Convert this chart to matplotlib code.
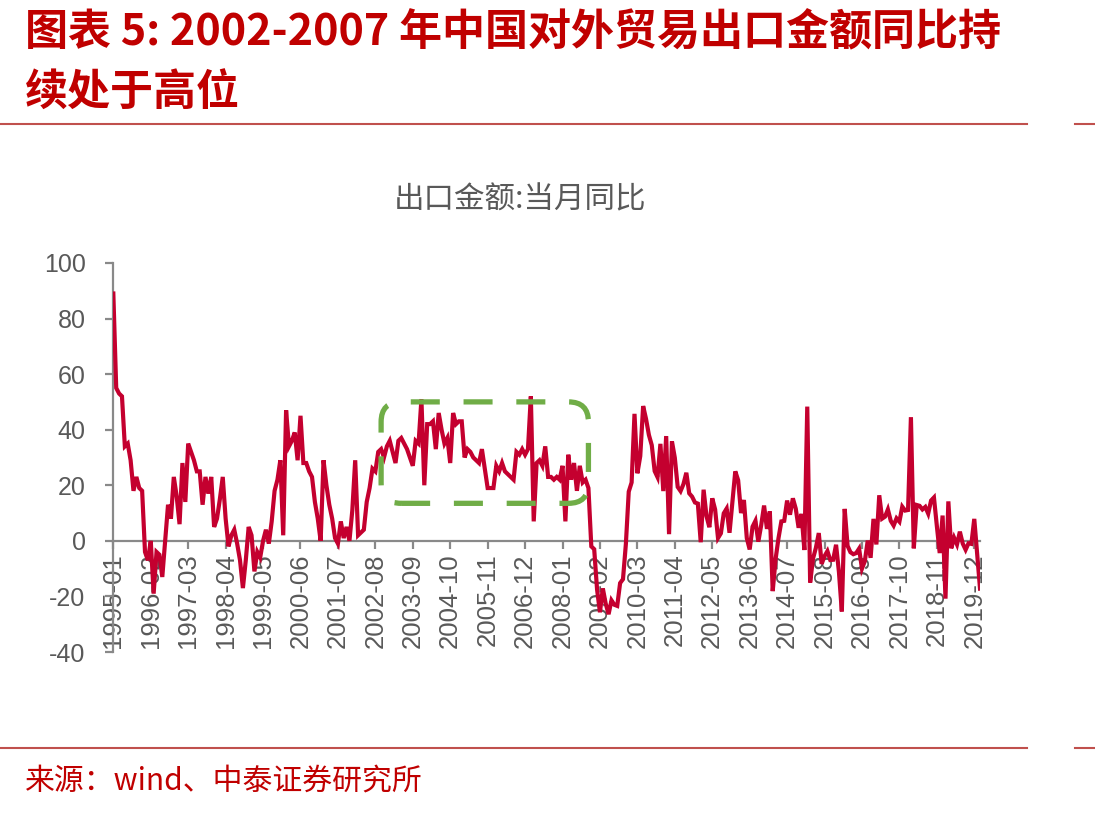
import numpy as np
import pandas as pd
import matplotlib
matplotlib.use("Agg")
import matplotlib.pyplot as plt
from matplotlib.lines import Line2D
from matplotlib.patches import FancyBboxPatch
from matplotlib.transforms import IdentityTransform

plt.rcParams['font.family'] = ['Liberation Sans', 'Noto Sans CJK SC', 'DejaVu Sans']
plt.rcParams['axes.unicode_minus'] = False

# China export value, YoY % (monthly)
exp_1995_1999 = [89, 55, 53, 52, 34, 35, 29, 18, 23, 19, 18, -4,
                 -7, 0, -19, -4, -5, -13, 0, 13, 8, 23, 16, 6,
                 28, 14, 35, 32, 29, 25, 25, 13, 23, 17, 23, 5,
                 8, 15, 23, 8, -2, 2, 4, -1, -7, -17, -7, 5,
                 2, -11, -4, -6, 0, 4, -1, 7, 18, 22, 29, 2]
exp_2000_2004 = [47, 34, 36, 39, 29, 45, 28, 28, 25, 23, 14, 8,
                 0, 29, 20, 13, 8, 1, -1, 7, 1, 5, 0, 11,
                 29, 2, 3, 4, 14, 19, 26, 25, 32, 33, 30, 34,
                 36, 32, 28, 36, 37, 35, 33, 30, 27, 36, 35, 51,
                 20, 42, 42, 43, 33, 46, 40, 35, 37, 28, 46, 42]
exp_2005_2009 = [43, 43, 30, 33, 32, 30, 29, 28, 33, 26, 19, 19,
                 19, 27, 25, 28, 25, 24, 23, 22, 32, 31, 33, 31,
                 33, 52, 7, 28, 29, 27, 34, 23, 23, 22, 23, 22,
                 27, 7, 31, 22, 28, 18, 27, 21, 22, 19, -2, -3,
                 -17.5, -25.7, -17.1, -22.6, -26.4, -21.4, -23.0, -23.4, -15.2, -13.8, -1.2, 17.7]
exp_2010_2014 = [21.0, 45.7, 24.3, 30.5, 48.5, 43.9, 38.1, 34.4, 25.1, 22.9, 34.9, 17.9,
                 37.7, 2.4, 35.8, 29.9, 19.4, 17.9, 20.4, 24.5, 17.1, 15.9, 13.8, 13.4,
                 -0.5, 18.4, 8.9, 4.9, 15.3, 11.3, 1.0, 2.7, 9.9, 11.6, 2.9, 14.1,
                 25.0, 21.8, 10.0, 14.7, 1.0, -3.1, 5.1, 7.2, -0.3, 5.6, 12.7, 4.3,
                 10.6, -18.1, -6.6, 0.9, 7.0, 7.2, 14.5, 9.4, 15.3, 11.6, 4.7, 9.7]
exp_2015_2020 = [-3.3, 48.3, -15.0, -6.4, -2.5, 2.8, -8.3, -5.5, -3.7, -6.9, -6.8, -1.4,
                 -11.2, -25.4, 11.5, -1.8, -4.1, -4.8, -4.4, -2.8, -10.0, -7.3, 0.1, -6.1,
                 7.9, -1.3, 16.4, 8.0, 8.7, 11.3, 7.2, 5.5, 8.1, 6.9, 12.3, 10.9,
                 11.1, 44.5, -2.7, 12.9, 12.6, 11.3, 12.2, 9.8, 14.5, 15.6, 5.4, -4.4,
                 9.1, -20.8, 14.2, -2.7, 1.1, -1.3, 3.3, -1.0, -3.2, -0.9, -1.1, 7.9,
                 np.nan, -17.2]

values = np.array(exp_1995_1999 + exp_2000_2004 + exp_2005_2009 + exp_2010_2014 + exp_2015_2020, dtype=float)
months = pd.date_range('1995-01-01', periods=len(values), freq='MS')
month_labels = months.strftime('%Y-%m')

RED = '#C4002F'
GRAY = '#898989'
TXT = '#595959'
DARKRED = '#C00000'

fig = plt.figure(figsize=(10.95, 8.14), dpi=100)
ax = fig.add_axes([0.1035, 0.199, 0.7915, 0.478])

idx = np.arange(len(values))
ok = ~np.isnan(values)
ax.plot(idx[ok], values[ok], color=RED, lw=3.0, solid_joinstyle='miter', zorder=3)

ax.set_xlim(0, len(values) - 1)
ax.set_ylim(-40, 100)
ax.set_yticks(np.arange(-40, 101, 20))
tick_pos = np.arange(0, len(values), 13)
ax.set_xticks(tick_pos)
ax.set_xticklabels(month_labels[tick_pos])

for s in ['top', 'right']:
    ax.spines[s].set_visible(False)
ax.spines['bottom'].set_position(('data', 0))
for s in ['left', 'bottom']:
    ax.spines[s].set_color(GRAY)
    ax.spines[s].set_linewidth(1.6)
ax.tick_params(axis='both', direction='out', length=6, width=1.6, color=GRAY,
               labelcolor=TXT)
ax.tick_params(axis='x', pad=3, labelrotation=90, labelsize=18.5)
ax.tick_params(axis='y', pad=14, labelsize=18)
for lab in ax.get_xticklabels():
    lab.set_va('top')
    lab.set_ha('center')

# green dashed highlight box around 2002-2007
fig.canvas.draw()
x0, y0 = ax.transData.transform((93, 13.5))
x1, y1 = ax.transData.transform((165, 50))
box = FancyBboxPatch((x0, y0), x1 - x0, y1 - y0,
                     boxstyle='round,pad=0,rounding_size=20',
                     transform=IdentityTransform(), fill=False,
                     edgecolor='#70AD47', lw=3.8, linestyle=(0, (5.5, 4.5)),
                     zorder=4)
fig.add_artist(box)

# header / footer text
cjk = ['Noto Sans CJK SC', 'DejaVu Sans']
fig.text(25 / 1095, 1 - 32 / 814, '图表 5: 2002-2007 年中国对外贸易出口金额同比持',
         color=DARKRED, fontsize=31, fontweight='bold', family=cjk, va='center')
fig.text(25 / 1095, 1 - 93 / 814, '续处于高位',
         color=DARKRED, fontsize=31, fontweight='bold', family=cjk, va='center')
fig.text(520 / 1095, 1 - 200 / 814, '出口金额:当月同比', color=TXT, fontsize=22,
         family=cjk, ha='center', va='center')
fig.text(25 / 1095, 1 - 781 / 814, '来源：wind、中泰证券研究所', color=DARKRED,
         fontsize=21.5, family=cjk, va='center')

for yy in [124, 748]:
    yf = 1 - yy / 814
    fig.add_artist(Line2D([0, 1027 / 1095], [yf, yf], color='#C0504D', lw=1.5))
    fig.add_artist(Line2D([1075 / 1095, 1], [yf, yf], color='#C0504D', lw=1.5))

fig.savefig('out.png', dpi=100)
